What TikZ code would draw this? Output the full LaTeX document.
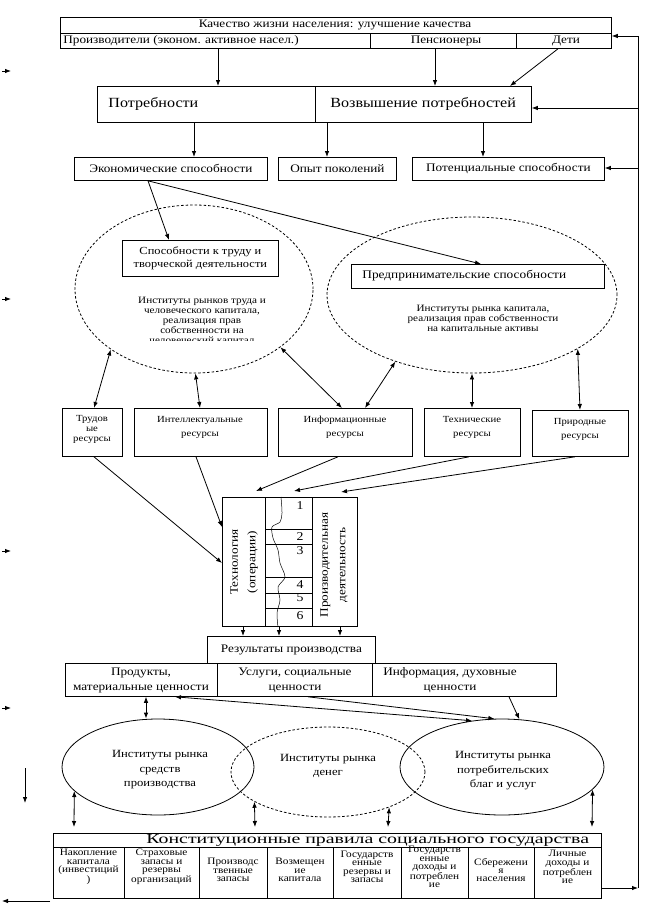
\documentclass[tikz,border=0pt]{standalone}
\usepackage{fontspec}
\setmainfont{Liberation Serif}[FakeStretch=1.15]
\newfontfamily\widefont{Liberation Serif}[FakeStretch=1.45]
\usetikzlibrary{arrows.meta,shapes.geometric,calc}
\newcommand\myfs[2]{\fontsize{#1}{#2}\selectfont}
\begin{document}
\begin{tikzpicture}[x=1pt,y=-1pt,line width=0.8pt,
  box/.style={draw,rectangle,inner sep=0pt,anchor=north west,align=center},
  el/.style={draw,ellipse,inner sep=0pt},
  dsh/.style={dash pattern=on 2.5pt off 2pt},
  lbl/.style={inner sep=0pt,align=center},
  arr/.style={-{Latex[length=6pt,width=4.5pt]}},
  dbl/.style={{Latex[length=6pt,width=4.5pt]}-{Latex[length=6pt,width=4.5pt]}},
  fmain/.style={font=\myfs{11.5}{15}},
  fbig/.style={font=\myfs{14}{16}},
  fhuge/.style={font=\widefont\myfs{13.7}{14}},
  fmid/.style={font=\myfs{10.8}{13}},
  fpred/.style={font=\myfs{11.6}{13}},
  finner/.style={font=\myfs{9.7}{10}},
  fsmall/.style={font=\myfs{9.3}{10}},
  fsmallb/.style={font=\myfs{9.3}{14}},
  fcell/.style={font=\myfs{9.8}{8.4}},
  frot/.style={font=\myfs{11.5}{17.5}},
  fnum/.style={font=\myfs{12}{13}},
  fell/.style={font=\myfs{11}{14.5}}
]
\useasboundingbox (0,0) rectangle (650,914);

% ---------- top box ----------
\node[box,minimum width=551,minimum height=31] (top) at (60,17) {};
\draw (top.west |- 0,33) -- (top.east |- 0,33);
\draw (370,33) -- (370,0 |- top.south);
\draw (516,33) -- (516,0 |- top.south);
\node[lbl,fmain] (tq) at (335,25) {Качество жизни населения: улучшение качества};
\node[lbl,fmain,anchor=west] (tprod) at (63,41) {Производители (эконом. активное насел.)};
\node[lbl,fmain] (tpen) at (446,41) {Пенсионеры};
\node[lbl,fmain] (tdet) at (566,41) {Дети};

% ---------- needs ----------
\node[box,minimum width=434,minimum height=36] (potr) at (97,86) {};
\draw (315,0 |- potr.north) -- (315,0 |- potr.south);
\node[lbl,fbig,anchor=west] (tpotr) at (108,104) {Потребности};
\node[lbl,fbig,anchor=west] (tvoz) at (330,104) {Возвышение потребностей};

\node[box,fmain,minimum width=193,minimum height=23] (econ) at (74,157) {Экономические способности};
\node[box,fmain,minimum width=118,minimum height=23] (opyt) at (278,157) {Опыт поколений};
\node[box,fmain,minimum width=192,minimum height=23] (potn) at (412,157) {Потенциальные способности};

% ---------- upper ellipses ----------
\node[el,dsh,minimum width=238,minimum height=168] (elA) at (194,289) {};
\node[el,dsh,minimum width=290,minimum height=156] (elB) at (472,295) {};
\node[box,fmid,minimum width=156,minimum height=36] (spos) at (122,240) {Способности к труду и\\творческой деятельности};
\node[box,minimum width=253,minimum height=24] (pred) at (351,264) {};
\node[lbl,fpred,anchor=west] (tpred) at (362,276) {Предпринимательские способности};
\begin{scope}
\clip (110,288) rectangle (300,340);
\node[lbl,finner] (tinA) at (202,320) {Институты рынков труда и\\человеческого капитала,\\реализация прав\\собственности на\\человеческий капитал};
\end{scope}
\node[lbl,finner] (tinB) at (483,318) {Институты рынка капитала,\\реализация прав собственности\\на капитальные активы};

% ---------- resources ----------
\node[box,minimum width=60,minimum height=48] (trud) at (62,408) {};
\node[lbl,fsmall] (ttrud) at (92,429) {Трудов\\ые\\ресурсы};
\node[box,minimum width=133,minimum height=48] (intl) at (134,408) {};
\node[lbl,fsmallb] (tintl) at (200,427) {Интеллектуальные\\ресурсы};
\node[box,minimum width=134,minimum height=48] (info) at (278,408) {};
\node[lbl,fsmallb] (tinfo) at (345,427) {Информационные\\ресурсы};
\node[box,minimum width=96,minimum height=48] (tech) at (424,408) {};
\node[lbl,fsmallb] (ttech) at (472,427) {Технические\\ресурсы};
\node[box,minimum width=96,minimum height=46] (prir) at (532,410) {};
\node[lbl,fsmallb] (tprir) at (580,429) {Природные\\ресурсы};

% ---------- technology block ----------
\node[box,minimum width=135,minimum height=129] (tb) at (222,497) {};
\draw (265,0 |- tb.north) -- (265,0 |- tb.south);
\draw (312,0 |- tb.north) -- (312,0 |- tb.south);
\foreach \yy in {529,544,577,593,608} \draw (265,\yy) -- (312,\yy);
\foreach \n/\yy in {1/506,2/537,3/551,4/585,5/598,6/616} \node[lbl,fnum] at (300,\yy) {\n};
\draw[line width=0.5pt] plot[smooth] coordinates {(281,497) (282,513) (280,522) (272,527) (273,538) (278,550) (280,563) (285,577) (278,587) (280,600) (277,613) (278,627)};
\node[lbl,frot,rotate=90] (ttechn) at (244,562) {Технология\\(операции)};
\node[lbl,frot,rotate=90] (tproizv) at (334,565) {Производительная\\деятельность};

% ---------- results ----------
\node[box,fmain,minimum width=168,minimum height=27] (res) at (207,636) {Результаты производства};
\node[box,minimum width=491,minimum height=33] (prod) at (65,663) {};
\draw (217,0 |- prod.north) -- (217,0 |- prod.south);
\draw (372,0 |- prod.north) -- (372,0 |- prod.south);
\node[lbl,fmain] (tp1) at (141,680) {Продукты,\\материальные ценности};
\node[lbl,fmain] (tp2) at (295,680) {Услуги, социальные\\ценности};
\node[lbl,fmain] (tp3) at (450,680) {Информация, духовные\\ценности};

% ---------- lower ellipses ----------
\node[el,minimum width=192,minimum height=96] (elL) at (158,767) {};
\node[el,dsh,minimum width=194,minimum height=90] (elM) at (328,772) {};
\node[el,minimum width=204,minimum height=96] (elR) at (502,767) {};
\node[lbl,fell] (teL) at (160,770) {Институты рынка\\средств\\производства};
\node[lbl,fell] (teM) at (328,766) {Институты рынка\\денег};
\node[lbl,fell] (teR) at (503,771) {Институты рынка\\потребительских\\благ и услуг};

% ---------- table ----------
\node[box,minimum width=548,minimum height=65] (tab) at (53,833) {};
\draw (tab.west |- 0,847) -- (tab.east |- 0,847);
\foreach \xx in {124,199,267,333,401,468,534} \draw (\xx,847) -- (\xx,0 |- tab.south);
\node[lbl,fhuge,anchor=west] (ttab) at (146,840.5) {Конституционные правила социального государства};
\node[lbl,fcell] at (88.5,867) {Накопление\\капитала\\(инвестиций\\)};
\node[lbl,fcell] at (161.5,867) {Страховые\\запасы и\\резервы\\организаций};
\node[lbl,fcell] at (233,870) {Производс\\твенные\\запасы};
\node[lbl,fcell] at (300,870) {Возмещен\\ие\\капитала};
\node[lbl,fcell] at (367,867) {Государств\\енные\\резервы и\\запасы};
\node[lbl,fcell] at (434.5,867) {Государств\\енные\\доходы и\\потреблен\\ие};
\node[lbl,fcell] at (501,870) {Сбережени\\я\\населения};
\node[lbl,fcell] at (567.5,867) {Личные\\доходы и\\потреблен\\ие};

% ---------- connectors ----------
\draw[arr] (218,0 |- top.south) -- (218,0 |- potr.north);
\draw[arr] (435,0 |- top.south) -- (435,0 |- potr.north);
\draw[arr] (558,0 |- top.south) -- (510,0 |- potr.north);

\draw[arr] (194,0 |- potr.south) -- (194,0 |- econ.north);
\draw[arr] (327,0 |- potr.south) -- (327,0 |- opyt.north);
\draw[arr] (483,0 |- potr.south) -- (483,0 |- potn.north);

\draw[arr] (148,0 |- econ.south) -- (169,0 |- spos.north);
\draw[arr] (148,0 |- econ.south) -- (481,0 |- pred.north);

\draw[dbl] (elA.-144.5) -- (94,0 |- trud.north);
\draw[dbl] (elA.-89) -- (200,0 |- intl.north);
\draw[dbl] (elA.-34.4) -- (342,0 |- info.north);
\draw[dbl] (elB.-139.6) -- (365,0 |- info.north);
\draw[dbl] (elB.-90) -- (472,0 |- tech.north);
\draw[dbl] (elB.-27.9) -- (580,0 |- prir.north);

\draw[arr] (94,0 |- trud.south) -- (tb.west |- 0,563);
\draw[arr] (196,0 |- intl.south) -- (tb.west |- 0,527);
\draw[arr] (338,0 |- info.south) -- ($(256,0 |- tb.north)+(0,-6)$);
\draw[arr] (469,0 |- tech.south) -- ($(294,0 |- tb.north)+(0,-6)$);
\draw[arr] (575,0 |- prir.south) -- ($(341,0 |- tb.north)+(0,-5)$);

\draw[arr] (243,0 |- tb.south) -- (243,0 |- res.north);
\draw[arr] (279,0 |- tb.south) -- (279,0 |- res.north);
\draw[arr] (340,0 |- tb.south) -- (340,0 |- res.north);

\draw[dbl] (146,0 |- prod.south) -- (146,0 |- elL.north);
\draw[dbl] (175,0 |- prod.south) -- (elR.123);
\draw[arr] (308,0 |- prod.south) -- (elR.99.5);
\draw[arr] (509,0 |- prod.south) -- (elR.70.5);

\draw[dbl] (elL.-164.7) -- ($(74,0 |- tab.north)+(0,-6)$);
\draw[dbl] (elM.-158.3) -- ($(255,0 |- tab.north)+(0,-6)$);
\draw[dbl] (elM.-30.3) -- ($(388,0 |- tab.north)+(0,-6)$);
\draw[dbl] (elR.-14.3) -- ($(592,0 |- tab.north)+(0,-6)$);

% feedback loop on the right
\coordinate (fb1) at (638,888);
\coordinate (fb2) at (638,36);
\draw[arr] (tab.east |- fb1) -- (fb1);
\draw[arr] (fb1) -- (fb2) -- (top.east |- fb2);
\draw[arr] (fb1 |- 0,108) -- (potr.east |- 0,108);
\draw[arr] (fb1 |- 0,168) -- (potn.east |- 0,168);

% left margin marks
\coordinate (m1) at (2,71);
\coordinate (m2) at (2,299);
\coordinate (m3) at (2,551);
\coordinate (m4) at (2,708);
\foreach \m in {m1,m2,m3,m4} \draw[arr] (\m) -- ++(9,0);
\coordinate (d1) at (25,768);
\coordinate (d2) at (25,803);
\draw[arr] (d1) -- (d2);
\coordinate (l1) at (50,901);
\coordinate (l2) at (2,901);
\draw[arr] (l1) -- (l2);
\end{tikzpicture}
\end{document}
